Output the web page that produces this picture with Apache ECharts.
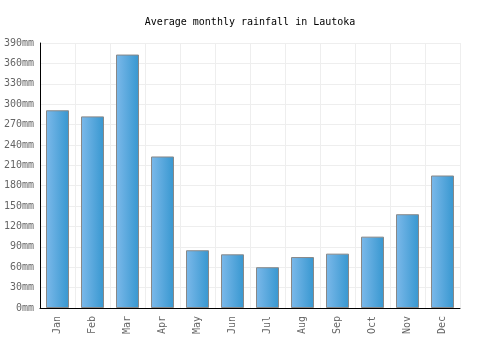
<!DOCTYPE html>
<html>
<head>
<meta charset="utf-8">
<script src="https://cdn.jsdelivr.net/npm/echarts@6/dist/echarts.min.js"></script>
<style>
  html, body { margin: 0; padding: 0; background: #fff; }
  #chart { width: 500px; height: 350px; }
</style>
</head>
<body>
<div id="chart"></div>
<script>
const months = ['Jan', 'Feb', 'Mar', 'Apr', 'May', 'Jun', 'Jul', 'Aug', 'Sep', 'Oct', 'Nov', 'Dec'];
const rainfall = [291, 282, 373, 223, 85, 79, 60, 75, 80, 105, 138, 195];

const font = '"DejaVu Sans Mono", monospace';
const chart = echarts.init(document.getElementById('chart'), null, { renderer: 'canvas' });

chart.setOption({
    backgroundColor: '#fff',
    animation: false,
    title: {
        text: 'Average monthly rainfall in Lautoka',
        left: 'center',
        top: 12,
        textStyle: { fontFamily: font, fontSize: 10, fontWeight: 'normal', color: '#000' },
    },
    grid: { left: 40, right: 40, top: 43, bottom: 42 },
    xAxis: {
        type: 'category',
        data: months,
        axisLine: { lineStyle: { color: '#000', width: 1 } },
        axisTick: { show: false },
        splitLine: { show: true, interval: 0, lineStyle: { color: '#eeeeee' } },
        axisLabel: { rotate: 90, interval: 0, margin: 8, color: '#666', fontFamily: font, fontSize: 10 },
    },
    yAxis: {
        type: 'value',
        min: 0,
        max: 390,
        interval: 30,
        axisLine: { show: true, lineStyle: { color: '#000', width: 1 } },
        axisTick: { show: false },
        splitLine: { lineStyle: { color: '#eeeeee' } },
        axisLabel: { formatter: '{value}mm', margin: 6, color: '#666', fontFamily: font, fontSize: 10 },
    },
    series: [
        {
            type: 'bar',
            data: rainfall,
            barWidth: 23,
            itemStyle: {
                borderColor: '#888',
                borderWidth: 1,
                color: new echarts.graphic.LinearGradient(0, 0, 1, 0, [
                    { offset: 0, color: '#7cb9ea' },
                    { offset: 1, color: '#3797d0' },
                ]),
            },
        },
    ],
});
</script>
</body>
</html>
